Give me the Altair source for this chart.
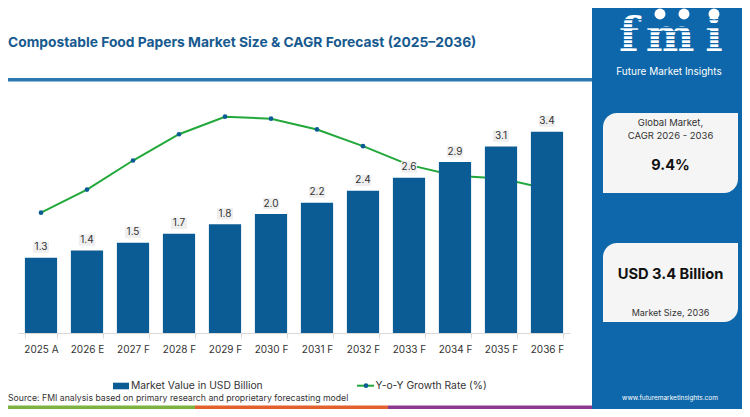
import altair as alt
import pandas as pd

# ---------------- data ----------------
years = ["2025 A", "2026 E", "2027 F", "2028 F", "2029 F", "2030 F",
         "2031 F", "2032 F", "2033 F", "2034 F", "2035 F", "2036 F"]
market = [1.26, 1.38, 1.51, 1.66, 1.82, 1.99, 2.18, 2.38, 2.60, 2.86, 3.12, 3.37]
labels = ["1.3", "1.4", "1.5", "1.7", "1.8", "2.0", "2.2", "2.4", "2.6", "2.9", "3.1", "3.4"]
growth = [9.02, 9.60, 10.33, 10.99, 11.43, 11.38, 11.11, 10.69, 10.22, 9.95, 9.88, 9.62]
grid_values = [0, 0.5, 1.0, 1.5, 2.0, 2.5, 3.0, 3.5, 4.0]

df = pd.DataFrame({"year": years, "value": market, "label": labels, "growth": growth})

FONT = "Inter"
BAR = "#0b5c94"
PANEL = "#0e67aa"
GREEN = "#22a83a"

OX, OY = 18, 94  # view origin in page pixels


def px(x):
    return alt.value(x - OX)


def py(y):
    return alt.value(y - OY)


one = alt.Data(values=[{"k": 0}])


def rect(x1, y1, x2, y2, color, **kw):
    return alt.Chart(one).mark_rect(color=color, **kw).encode(
        x=px(x1), x2=px(x2), y=py(y1), y2=py(y2))


def text(t, x, y, size, color, weight="normal", align="center", font=FONT):
    return alt.Chart(one).mark_text(
        text=t, fontSize=size, color=color, fontWeight=weight,
        align=align, baseline="middle", font=font).encode(x=px(x), y=py(y))


xenc = alt.X("year:N", sort=years,
             scale=alt.Scale(paddingInner=0.3, paddingOuter=0.15),
             axis=alt.Axis(title=None, labelAngle=0, labelFont=FONT, labelFontSize=10,
                           labelColor="#333333", labelPadding=6, tickSize=5,
                           tickColor="#d9d9d9", domainColor="#d9d9d9", tickBand="extent",
                           grid=False))
yscale = alt.Scale(domain=[0, 4])

base = alt.Chart(df)

line = base.mark_line(color=GREEN, strokeWidth=2).encode(
    x=xenc, y=alt.Y("growth:Q", scale=alt.Scale(domain=[6, 12]), axis=None))
points = base.mark_point(filled=True, color=BAR, size=22, opacity=1).encode(
    x=xenc, y=alt.Y("growth:Q", scale=alt.Scale(domain=[6, 12]), axis=None))

bars = base.mark_bar(color=BAR).encode(
    x=xenc,
    y=alt.Y("value:Q", scale=yscale,
            axis=alt.Axis(values=grid_values, labels=False, ticks=False, domain=False,
                          title=None, gridColor="#e6e6e6", gridWidth=1)))

boxes = base.mark_point(shape="M-1,-0.7L1,-0.7L1,0.7L-1,0.7Z", filled=True,
                        size=260, color="#efefef", opacity=1, yOffset=-10.5).encode(
    x=xenc, y=alt.Y("value:Q", scale=yscale, axis=None))
vlabels = base.mark_text(fontSize=10, color="#333333", font=FONT, dy=-10.5,
                         baseline="middle").encode(
    x=xenc, y=alt.Y("value:Q", scale=yscale, axis=None), text="label:N")

layers = []
# right panel, header rule, bottom strips
layers.append(rect(592, 0, 745, 412, PANEL))
layers.append(rect(0, 78, 592, 81.5, "#2b78b0"))
layers.append(rect(0, 405.5, 195, 412, "#7cb342"))
layers.append(rect(195, 405.5, 388, 412, "#e3612f"))
layers.append(rect(388, 405.5, 592, 412, "#8b3a8f"))

# title
layers.append(text("Compostable Food Papers Market Size & CAGR Forecast (2025\u20132036)",
                   8, 42.5, 13.8, "#175a8f", weight="bold", align="left"))

# logo: letters drawn separately so they spread like the original mark
for ch, cx in (("f", 629), ("m", 670), ("i", 714)):
    layers.append(alt.Chart(one).mark_text(text=ch, fontSize=46, color="white",
                                           fontWeight="bold", font="DejaVu Serif",
                                           align="center", baseline="middle").encode(
        x=px(cx), y=py(37)))
for yy in range(19, 52, 4):
    layers.append(rect(612, yy, 730, yy + 1.2, PANEL))
for cx in (660, 684, 714):
    layers.append(alt.Chart(one).mark_point(filled=True, color="white", size=120,
                                            opacity=1).encode(x=px(cx), y=py(14)))
layers.append(text("Future Market Insights", 669, 71.5, 10, "white"))

# cards
layers.append(rect(603, 113, 738, 193, "#f5f5f5",
                   cornerRadiusTopLeft=14, cornerRadiusBottomRight=14))
layers.append(text("Global Market,", 670.5, 123, 9.5, "#333333"))
layers.append(text("CAGR 2026 - 2036", 670.5, 136, 9.5, "#333333"))
layers.append(text("9.4%", 670.5, 166, 14.5, "#111111", weight="bold"))
layers.append(rect(603, 243, 738, 322, "#f5f5f5",
                   cornerRadiusTopLeft=14, cornerRadiusBottomRight=14))
layers.append(text("USD 3.4 Billion", 670.5, 275, 14.7, "#111111", weight="bold"))
layers.append(text("Market Size, 2036", 670.5, 313, 9, "#333333"))
layers.append(text("www.futuremarketinsights.com", 670, 398, 6.5, "white"))

# data layers
layers += [line, points, bars, boxes, vlabels]

# legend
layers.append(rect(113, 382.7, 129, 389.3, BAR))
layers.append(text("Market Value in USD Billion", 131, 386, 10.3, "#333333", align="left"))
layers.append(alt.Chart(one).mark_rule(color=GREEN, strokeWidth=2).encode(
    x=px(357), x2=px(374), y=py(385.7)))
layers.append(alt.Chart(one).mark_point(filled=True, color=BAR, size=22, opacity=1).encode(
    x=px(366), y=py(385.7)))
layers.append(text("Y-o-Y Growth Rate (%)", 375.5, 386, 10.3, "#333333", align="left"))

# source
layers.append(text("Source: FMI analysis based on primary research and proprietary forecasting model",
                   8, 398, 8.7, "#333333", align="left"))

chart = alt.layer(*layers).resolve_scale(y="independent").properties(
    width=552, height=239,
    autosize=alt.AutoSizeParams(type="none"),
    padding={"left": 10, "top": 86, "right": 172, "bottom": 76},
    background="white",
).configure_view(stroke=None)

chart.save("out.html", embed_options={"renderer": "svg", "actions": False})
